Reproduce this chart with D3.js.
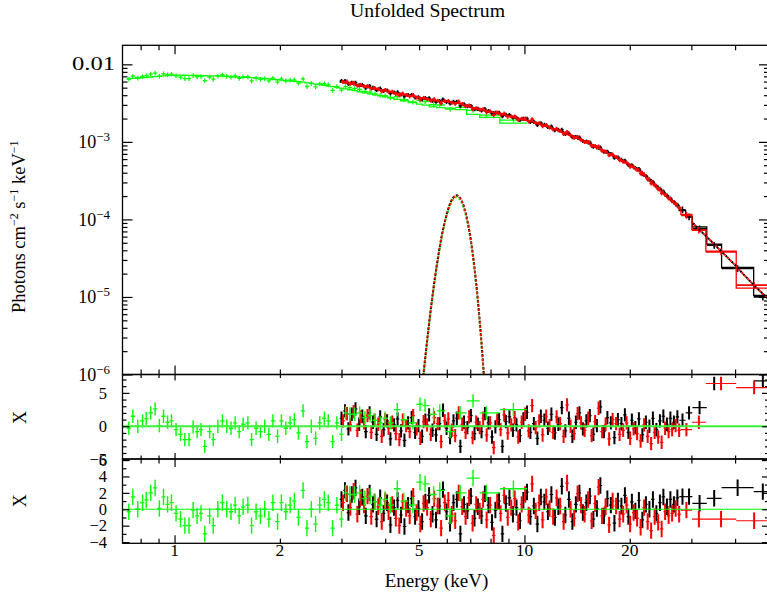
<!DOCTYPE html>
<html><head><meta charset="utf-8">
<script src="https://cdn.jsdelivr.net/npm/d3@7"></script>
<style>
body{margin:0;background:#fff;overflow:hidden}
svg{display:block}
text{font-family:"Liberation Serif","Times New Roman",serif;fill:#000}
</style></head>
<body><svg id="c" width="767" height="601"></svg>
<script>
// ---------------- DATA ----------------
const FU = 1e-3;   // flux unit of the arrays below (photons cm^-2 s^-1 keV^-1)
const FU5 = 1e-5;

// Green (soft X-ray instrument) spectrum
const greenE = [0.74,0.76,0.785,0.81,0.83,0.855,0.88,0.905,0.93,0.955,
  0.98,1.01,1.04,1.07,1.10,1.13,1.16,1.19,1.22,1.26,
  1.29,1.33,1.37,1.41,1.45,1.49,1.53,1.57,1.62,1.66,
  1.71,1.76,1.81,1.86,1.91,1.97,2.02,2.08,2.14,2.20,
  2.26,2.33,2.39,2.46,2.53,2.60,2.68,2.75,2.83,2.91,3.00,
  3.08,3.17,3.27,3.38,3.50,3.62,3.74,3.87,4.00,4.14,4.33,4.52,4.80,5.03,5.20,5.50,5.73,6.13,6.55,7.13,7.78,9.3];
const greenFlux = [6.44,7.03,6.67,6.98,7.14,7.50,7.72,7.04,7.56,7.35,
  7.47,7.11,6.84,6.56,6.55,7.16,6.92,6.98,6.16,6.85,
  6.45,7.08,7.29,7.00,6.87,7.08,6.61,6.90,6.93,6.11,
  6.60,6.40,6.56,6.13,6.64,5.90,6.50,6.12,6.27,6.32,
  5.72,6.50,5.18,5.67,5.12,5.59,5.65,5.44,4.61,5.17,4.66,
  5.17,5.00,4.86,4.74,4.49,4.39,4.17,3.98,3.96,3.74,3.84,3.51,3.27,3.43,3.30,3.01,2.99,2.64,2.78,2.55,2.21,1.91];
const greenModel = [6.52,6.58,6.67,6.74,6.79,6.87,6.94,7.01,7.08,7.15,
  7.21,7.28,7.25,7.23,7.21,7.19,7.18,7.15,7.13,7.11,
  7.10,7.08,7.04,7.00,6.95,6.91,6.86,6.82,6.77,6.73,
  6.68,6.64,6.56,6.49,6.41,6.33,6.27,6.19,6.12,6.05,
  5.98,5.89,5.78,5.67,5.56,5.46,5.35,5.25,5.15,5.05,4.94,
  4.83,4.70,4.57,4.43,4.29,4.16,4.04,3.91,3.80,3.68,3.53,3.39,3.21,3.07,2.98,2.83,2.77,2.72,2.60,2.26,2.07,1.75];
const greenRes = [-0.3,1.5,0.0,0.8,1.15,2.0,2.6,0.1,1.5,0.6,
  0.8,-0.5,-1.2,-2.0,-2.0,-0.1,-0.8,-0.5,-3.0,-0.8,
  -2.0,0.0,0.8,0.0,-0.3,0.5,-0.8,0.3,0.5,-2.0,
  -0.3,-0.8,0.0,-1.2,0.8,-1.5,0.8,-0.3,0.5,1.0,
  -1.0,2.3,-2.3,0.0,-1.8,0.5,1.2,0.8,-2.3,0.5,-1.2,
  2.0,1.8,1.8,2.0,1.3,1.6,0.9,0.5,1.2,0.5,2.5,1.0,0.5,3.3,3.1,1.8,2.3,-0.8,2.0,3.8,2.0,2.5];
const greenErr = 0.07;

// Hard X-ray module 1 (black): bin energies, unfolded flux, model, residuals
const blackE = [3.00,3.07,3.14,3.21,3.29,3.37,3.44,3.52,3.61,3.69,
  3.78,3.87,3.96,4.05,4.14,4.24,4.34,4.44,4.54,4.65,
  4.76,4.87,4.98,5.10,5.21,5.34,5.46,5.59,5.72,5.85,
  5.99,6.13,6.27,6.41,6.56,6.72,6.87,7.03,7.20,7.36,
  7.54,7.71,7.89,8.08,8.26,8.46,8.65,8.85,9.06,9.27,
  9.49,9.71,9.93,10.17,10.40,10.64,10.89,11.14,11.40,11.67,
  11.94,12.22,12.50,12.79,13.09,13.40,13.71,14.03,14.36,14.69,
  15.03,15.38,15.74,16.11,16.48,16.87,17.26,17.66,18.08,18.50,
  18.93,19.37,19.82,20.28,20.75,21.24,21.73,22.24,22.76,23.29,
  23.83,24.39,24.95,25.54,26.13,26.74,27.36];
const blackFlux = [6.10,6.12,5.62,5.81,5.80,5.37,5.42,5.02,5.26,4.98,
  4.67,4.87,4.55,4.61,4.21,4.35,4.36,4.09,3.86,4.04,
  4.04,3.74,3.76,3.53,3.68,3.67,3.41,3.29,3.38,3.52,
  3.27,3.13,3.30,3.29,2.92,3.06,2.89,2.91,2.65,2.67,
  2.54,2.65,2.51,2.33,2.37,2.38,2.14,2.24,2.23,2.06,
  2.05,1.92,1.99,1.99,1.81,1.82,1.66,1.74,1.66,1.56,
  1.58,1.42,1.42,1.43,1.27,1.28,1.15,1.16,1.14,1.03,
  1.015,0.982,0.868,0.851,0.849,0.749,0.748,0.696,0.624,0.630,
  0.587,0.571,0.506,0.500,0.459,0.448,0.382,0.364,0.326,0.305,
  0.266,0.249,0.229,0.203,0.187,0.168,0.155];
const blackModel = [5.92,5.79,5.68,5.56,5.45,5.33,5.22,5.12,5.01,4.91,
  4.81,4.71,4.61,4.52,4.42,4.33,4.24,4.16,4.07,3.99,
  3.91,3.83,3.75,3.67,3.60,3.52,3.46,3.40,3.35,3.32,
  3.29,3.27,3.24,3.19,3.11,3.01,2.90,2.80,2.72,2.65,
  2.59,2.53,2.48,2.43,2.38,2.32,2.26,2.20,2.15,2.09,
  2.04,1.99,1.94,1.89,1.85,1.80,1.74,1.68,1.62,1.57,
  1.51,1.46,1.41,1.35,1.29,1.24,1.19,1.14,1.09,1.04,
  0.995,0.944,0.895,0.849,0.805,0.764,0.724,0.687,0.652,0.615,
  0.581,0.548,0.518,0.489,0.461,0.436,0.395,0.359,0.326,0.296,
  0.269,0.244,0.221,0.201,0.182,0.166,0.150];
const blackRes = [1.2,2.3,-0.4,1.8,2.6,0.3,1.5,-0.8,2.0,0.6,
  -1.2,1.4,-0.5,0.8,-1.9,0.2,1.1,-0.7,-2.1,0.5,
  1.3,-0.9,0.1,-1.5,0.9,1.7,-0.6,-1.3,0.4,2.4,
  -0.3,-1.7,0.8,1.2,-3.0,0.6,-0.2,1.6,-1.1,0.3,
  -0.8,1.9,0.5,-1.6,-0.1,1.0,-3.0,0.7,1.4,-0.6,
  0.2,-1.4,1.1,2.1,-0.9,0.4,-1.8,1.5,0.9,-0.3,
  1.8,-1.0,0.3,2.8,-0.7,1.2,-1.5,0.6,2.0,-0.4,
  0.8,1.6,-1.2,0.1,2.9,-0.8,1.3,0.5,-1.7,1.0,
  0.4,1.7,-0.9,0.9,-0.2,1.1,-1.3,0.6,0.0,1.2,
  -0.5,0.8,1.5,0.3,1.2,0.6,1.4];

// Hard X-ray module 2 (red)
const redE = [3.03,3.11,3.18,3.25,3.33,3.40,3.48,3.56,3.65,3.73,
  3.82,3.91,4.00,4.09,4.19,4.29,4.39,4.49,4.59,4.70,
  4.81,4.92,5.04,5.15,5.27,5.40,5.52,5.65,5.78,5.92,
  6.06,6.20,6.34,6.49,6.64,6.79,6.95,7.11,7.28,7.45,
  7.62,7.80,7.98,8.17,8.36,8.55,8.75,8.96,9.17,9.38,
  9.60,9.82,10.05,10.28,10.52,10.77,11.02,11.27,11.54,11.80,
  12.08,12.36,12.65,12.94,13.24,13.55,13.87,14.19,14.52,14.86,
  15.21,15.56,15.92,16.29,16.67,17.06,17.46,17.87,18.28,18.71,
  19.15,19.59,20.05,20.51,20.99,21.48,21.98,22.50,23.02,23.56,
  24.11,24.67,25.24,25.83,26.43,27.05,27.68];
const redFlux = [5.97,6.00,5.65,5.80,5.31,5.45,5.23,5.26,4.85,4.97,
  4.80,4.49,4.67,4.44,4.44,4.16,3.99,4.20,4.04,3.87,
  4.02,3.75,3.54,3.69,3.58,3.39,3.54,3.40,3.14,3.37,
  3.37,3.20,3.10,3.31,3.08,2.88,2.95,2.64,2.72,2.61,
  2.64,2.42,2.48,2.21,2.40,2.26,2.32,2.12,2.13,2.13,
  1.93,1.99,2.00,1.84,1.96,1.76,1.74,1.60,1.65,1.54,
  1.45,1.48,1.39,1.27,1.34,1.21,1.13,1.16,1.07,1.00,
  0.998,0.887,0.887,0.870,0.768,0.750,0.672,0.686,0.639,0.580,
  0.556,0.540,0.480,0.470,0.436,0.392,0.379,0.329,0.291,0.276,
  0.246,0.218,0.209,0.187,0.172,0.158,0.141];
const redModel = [5.85,5.73,5.62,5.50,5.39,5.27,5.17,5.06,4.96,4.86,
  4.76,4.66,4.56,4.47,4.37,4.28,4.20,4.11,4.03,3.95,
  3.87,3.79,3.71,3.63,3.56,3.49,3.43,3.37,3.33,3.30,
  3.28,3.25,3.21,3.15,3.06,2.95,2.85,2.76,2.68,2.62,
  2.56,2.50,2.45,2.40,2.35,2.29,2.23,2.17,2.12,2.06,
  2.01,1.96,1.91,1.87,1.82,1.77,1.71,1.65,1.59,1.54,
  1.48,1.43,1.38,1.32,1.26,1.21,1.16,1.11,1.06,1.02,
  0.969,0.919,0.872,0.827,0.784,0.744,0.705,0.669,0.633,0.598,
  0.564,0.533,0.503,0.475,0.448,0.415,0.377,0.342,0.311,0.282,
  0.256,0.232,0.211,0.191,0.174,0.158,0.143];
const redRes = [0.8,1.9,0.2,2.2,-0.6,1.4,0.5,1.6,-0.9,0.9,
  0.3,-1.5,1.0,-0.3,0.6,-1.1,-2.0,0.9,0.1,-0.8,
  1.6,-0.4,-1.8,0.7,0.2,-1.2,1.3,0.4,-2.3,0.8,
  1.1,-0.6,-1.4,2.0,0.3,-0.9,1.4,-1.7,0.6,-0.2,
  1.2,-1.3,0.5,-3.2,0.9,-0.5,1.7,-1.0,0.2,1.3,
  -1.6,0.6,1.8,-0.7,3.1,-0.2,0.8,-1.3,1.5,0.1,
  -0.9,1.4,0.4,-1.5,3.2,0.0,-1.1,1.9,0.5,-0.6,
  1.2,-1.4,0.7,2.7,-0.8,0.3,-1.9,1.0,0.4,-1.2,
  -0.6,0.5,-1.8,-0.4,-1.1,-2.2,0.2,-1.5,-2.6,-0.9,
  -1.6,-2.4,-0.3,-0.8,-0.5,0.1,-0.6];
const nuErr = 0.06;

// wide high-energy bins (flux in units of 1e-5); residuals for the two fits
const blackHiLo = [27.7,28.9,30.2,33.2,36.6,45.2];
const blackHiHi = [28.9,30.2,33.2,36.6,45.2,51];
const blackHiFlux = [13.3,10.8,7.6,4.66,2.33,1.0];
const blackHiModel = [13.0,10.9,8.0,4.8,2.4,1.05];
const blackHiRes1 = [0.9,2.0,2.8,6.4,9.5,6.8];
const blackHiRes2 = [1.54,1.54,0.73,1.34,2.63,2.15];
const redHiLo = [28.0,30.1,33.0,40.3];
const redHiHi = [30.1,33.0,40.3,51];
const redHiFlux = [11.3,7.3,3.82,1.42];
const redHiModel = [11.6,7.4,3.9,1.3];
const redHiRes1 = [-0.5,0.6,6.4,5.8];
const redHiRes2 = [-0.1,-1.2,-1.2,-1.4];
const hiErr = 0.1;

// model components (dotted): iron line and continuum tail (units 1e-5)
const gaussE = [5.1,5.2,5.3,5.4,5.5,5.6,5.7,5.8,5.9,6.0,6.1,6.2,6.3,6.4,6.5,6.6,6.7,6.8,6.9,7.0,7.1,7.2,7.3,7.4,7.5,7.6,7.7];
const gaussRed = [0.068,0.158,0.344,0.70,1.33,2.36,3.9,6.1,8.8,11.9,15.1,17.9,19.8,20.5,19.8,17.9,15.1,11.9,8.8,6.1,3.9,2.36,1.33,0.70,0.344,0.158,0.068];
const gaussGreen = [0.065,0.150,0.327,0.665,1.26,2.24,3.7,5.8,8.4,11.3,14.3,17.0,18.8,19.5,18.8,17.0,14.3,11.3,8.4,5.8,3.7,2.24,1.26,0.665,0.327,0.150,0.065];
const contE = [30,32,34,36,38,40,42,44,46,48,50];
const contF = [9.4,7.0,5.36,4.14,3.25,2.58,2.02,1.62,1.32,1.10,0.92];

// axis ticks
const xMajor = [1,10];
const xMinor = [0.8,0.9,2,3,4,5,6,7,8,9,20,30,40,50];
const xLabels = [1,2,5,10,20];
const r1Labels = [5,0,-5];
const r2Labels = [6,4,2,0,-2,-4];

// ---------------- LAYOUT ----------------
const L = 122.5, R = 769;
const P0 = {top:45.3, bot:374.5}, P1 = {top:374.5, bot:459}, P2 = {top:459, bot:543.3};
const GREEN = "#00ff00", RED = "#ff0000", BLACK = "#000000";

const x = d3.scaleLog().domain([0.71, 50]).range([L, R]);
const yS = d3.scaleLog().domain([1e-6, 0.0176]).range([P0.bot, P0.top]);
const yR1 = d3.scaleLinear().domain([-4.9, 7.75]).range([P1.bot, P1.top]);
const yR2 = d3.scaleLinear().domain([-4.15, 6.13]).range([P2.bot, P2.top]);

const svg = d3.select("#c");
const defs = svg.append("defs");
[["c0",P0],["c1",P1],["c2",P2]].forEach(([id,p]) => {
  defs.append("clipPath").attr("id", id).append("rect")
    .attr("x", L).attr("y", p.top).attr("width", R - L).attr("height", p.bot - p.top);
});

function edges(E) {
  const lo = [], hi = [];
  for (let i = 0; i < E.length; i++) {
    lo.push(i > 0 ? Math.sqrt(E[i-1]*E[i]) : E[i]*Math.sqrt(E[i]/E[i+1]));
    hi.push(i < E.length-1 ? Math.sqrt(E[i]*E[i+1]) : E[i]*Math.sqrt(E[i]/E[i-1]));
  }
  return {lo, hi};
}
function crosses(g, pts, y, color, swH, swV) {
  const s = g.append("g").attr("stroke", color).attr("fill", "none");
  s.selectAll("line.h").data(pts).join("line").attr("class","h").attr("stroke-width", swH)
    .attr("x1", d => x(d.lo)).attr("x2", d => x(d.hi))
    .attr("y1", d => y(d.v)).attr("y2", d => y(d.v));
  s.selectAll("line.v").data(pts).join("line").attr("class","v").attr("stroke-width", swV)
    .attr("x1", d => x(d.e)).attr("x2", d => x(d.e))
    .attr("y1", d => y(d.a)).attr("y2", d => y(d.b));
}
function steps(g, lo, hi, v, y, color, sw) {
  const pts = [];
  lo.forEach((l, i) => { pts.push([l, v[i]]); pts.push([hi[i], v[i]]); });
  g.append("path").attr("d", d3.line().x(d => x(d[0])).y(d => y(d[1]))(pts))
    .attr("fill", "none").attr("stroke", color).attr("stroke-width", sw);
}
function dotted(g, E, F, unit, y, color, offset) {
  g.append("path").attr("d", d3.line().x((d,i) => x(E[i])).y(d => y(d*unit))(F))
    .attr("fill","none").attr("stroke", color).attr("stroke-width", 2)
    .attr("stroke-dasharray", "2,2.2").attr("stroke-dashoffset", offset);
}

// ---------------- TOP PANEL ----------------
const g0 = svg.append("g").attr("clip-path", "url(#c0)");
const gEd = edges(greenE);
steps(g0, gEd.lo, gEd.hi, greenModel.map(v => v*FU), yS, GREEN, 1.3);
crosses(g0, greenE.map((e,i) => ({e, lo:gEd.lo[i], hi:gEd.hi[i], v:greenFlux[i]*FU,
  a:greenFlux[i]*FU*(1-greenErr), b:greenFlux[i]*FU*(1+greenErr)})), yS, GREEN, 1.3, 1.2);

function topNu(E, flux, model, hiLo, hiHi, hiFlux, hiModel, color) {
  const ed = edges(E);
  const lo = ed.lo.concat(hiLo), hi = ed.hi.concat(hiHi);
  steps(g0, lo, hi, model.map(v => v*FU).concat(hiModel.map(v => v*FU5)), yS, color, 1.3);
  const pts = E.map((e,i) => ({e, lo:ed.lo[i], hi:ed.hi[i], v:flux[i]*FU,
      a:flux[i]*FU*(1-nuErr), b:flux[i]*FU*(1+nuErr)}))
    .concat(hiLo.map((l,i) => { const v = hiFlux[i]*FU5;
      return {e:Math.sqrt(l*hiHi[i]), lo:l, hi:hiHi[i], v, a:v*(1-hiErr), b:v*(1+hiErr)}; }));
  crosses(g0, pts, yS, color, 1.8, 1.6);
}
topNu(blackE, blackFlux, blackModel, blackHiLo, blackHiHi, blackHiFlux, blackHiModel, BLACK);
topNu(redE, redFlux, redModel, redHiLo, redHiHi, redHiFlux, redHiModel, RED);

dotted(g0, gaussE, gaussRed, FU5, yS, BLACK, 1);
dotted(g0, gaussE, gaussGreen, FU5, yS, GREEN, 2);
dotted(g0, gaussE, gaussRed, FU5, yS, RED, 0);
dotted(g0, contE, contF, FU5, yS, BLACK, 2);
dotted(g0, contE, contF, FU5, yS, RED, 0);

// ---------------- RESIDUAL PANELS ----------------
function residPanel(clip, y, blackHiRes, redHiRes, zeroW, zeroC) {
  const g = svg.append("g").attr("clip-path", `url(#${clip})`);
  const mk = (E, res) => { const ed = edges(E);
    return E.map((e,i) => ({e, lo:ed.lo[i], hi:ed.hi[i], v:res[i], a:res[i]-1, b:res[i]+1})); };
  const mkHi = (lo, hi, res) => lo.map((l,i) => ({e:Math.sqrt(l*hi[i]), lo:l, hi:hi[i], v:res[i], a:res[i]-1, b:res[i]+1}));
  crosses(g, mk(blackE, blackRes).concat(mkHi(blackHiLo, blackHiHi, blackHiRes)), y, BLACK, 1.2, 2.0);
  crosses(g, mk(redE, redRes).concat(mkHi(redHiLo, redHiHi, redHiRes)), y, RED, 1.2, 2.0);
  crosses(g, mk(greenE, greenRes), y, GREEN, 1.3, 1.4);
  g.append("line").attr("x1", L).attr("x2", R).attr("y1", y(0)).attr("y2", y(0))
    .attr("stroke", zeroC).attr("stroke-width", zeroW);
}
residPanel("c1", yR1, blackHiRes1, redHiRes1, 2, "#3cf03c");
residPanel("c2", yR2, blackHiRes2, redHiRes2, 1.2, GREEN);

// ---------------- AXES ----------------
function xTicks(p, maj, min) {
  [[xMajor, maj], [xMinor, min]].forEach(([vals, len]) => {
    svg.append("g").attr("transform", `translate(0,${p.top})`)
      .call(d3.axisTop(x).tickValues(vals).tickSizeInner(-len).tickSizeOuter(0).tickFormat(""));
    svg.append("g").attr("transform", `translate(0,${p.bot})`)
      .call(d3.axisBottom(x).tickValues(vals).tickSizeInner(-len).tickSizeOuter(0).tickFormat(""));
  });
}
function yTicks(y, vals, len) {
  svg.append("g").attr("transform", `translate(${L},0)`)
    .call(d3.axisLeft(y).tickValues(vals).tickSizeInner(-len).tickSizeOuter(0).tickFormat(""));
  svg.append("g").attr("transform", `translate(${R},0)`)
    .call(d3.axisRight(y).tickValues(vals).tickSizeInner(-len).tickSizeOuter(0).tickFormat(""));
}
xTicks(P0, 9, 5);
xTicks(P1, 6, 3.5);
xTicks(P2, 8, 4.5);

const decades = [-6,-5,-4,-3,-2];
yTicks(yS, decades.map(d => Math.pow(10, d)), 10);
const minorY = [];
decades.forEach(d => { for (let k = 2; k <= 9; k++) { const v = k*Math.pow(10, d); if (v <= 0.0176) minorY.push(v); } });
yTicks(yS, minorY, 5);
yTicks(yR1, [-5,0,5], 7);
yTicks(yR1, [-4,-3,-2,-1,1,2,3,4,6,7], 4);
yTicks(yR2, [-4,-2,0,2,4,6], 7);
yTicks(yR2, [-3,-1,1,3,5], 4);

svg.selectAll(".domain").remove();
svg.selectAll(".tick line").attr("stroke", "#000").attr("stroke-width", 1.2);

[P0, P1, P2].forEach(p => svg.append("rect").attr("x", L).attr("y", p.top)
  .attr("width", R - L).attr("height", p.bot - p.top)
  .attr("fill", "none").attr("stroke", "#000").attr("stroke-width", 1.3));

// ---------------- TEXT ----------------
svg.append("text").attr("x", 427.5).attr("y", 17).attr("text-anchor", "middle")
  .attr("font-size", 18.5).attr("textLength", 155).attr("lengthAdjust", "spacingAndGlyphs")
  .text("Unfolded Spectrum");
svg.append("text").attr("x", 436.5).attr("y", 586.5).attr("text-anchor", "middle")
  .attr("font-size", 19).text("Energy (keV)");

svg.selectAll("text.xl").data(xLabels).join("text").attr("class", "xl")
  .attr("x", d => x(d)).attr("y", 556).attr("text-anchor", "middle")
  .attr("font-size", 17.5).text(d => d);

decades.forEach(d => {
  const v = Math.pow(10, d);
  if (d === -2) {
    svg.append("text").attr("x", 115).attr("y", yS(v) + 6).attr("text-anchor", "end")
      .attr("font-size", 18).attr("textLength", 43).attr("lengthAdjust", "spacingAndGlyphs").text("0.01");
  } else {
    const t = svg.append("text").attr("x", 110).attr("y", yS(v) + 6.5).attr("text-anchor", "end").attr("font-size", 18);
    t.append("tspan").text("10");
    t.append("tspan").attr("dy", -7).attr("font-size", 13).text("−" + (-d));
  }
});

function resLabels(y, vals) {
  vals.forEach(v => svg.append("text").attr("x", 107).attr("y", y(v)).attr("dy", "0.35em")
    .attr("text-anchor", "end").attr("font-size", 16.5).text(v < 0 ? "−" + (-v) : String(v)));
}
resLabels(yR1, r1Labels);
resLabels(yR2, r2Labels);

const yl = svg.append("text").attr("transform", "translate(25,226.7) rotate(-90)")
  .attr("text-anchor", "middle").attr("font-size", 18.5);
yl.append("tspan").text("Photons cm");
yl.append("tspan").attr("dy", -7).attr("font-size", 12).text("−2");
yl.append("tspan").attr("dy", 7).text(" s");
yl.append("tspan").attr("dy", -7).attr("font-size", 12).text("−1");
yl.append("tspan").attr("dy", 7).text(" keV");
yl.append("tspan").attr("dy", -7).attr("font-size", 12).text("−1");

[417.5, 500.8].forEach(cy => svg.append("text")
  .attr("transform", `translate(26,${cy}) rotate(-90)`).attr("text-anchor", "middle")
  .attr("font-size", 18).text("X"));
</script>
</body></html>
